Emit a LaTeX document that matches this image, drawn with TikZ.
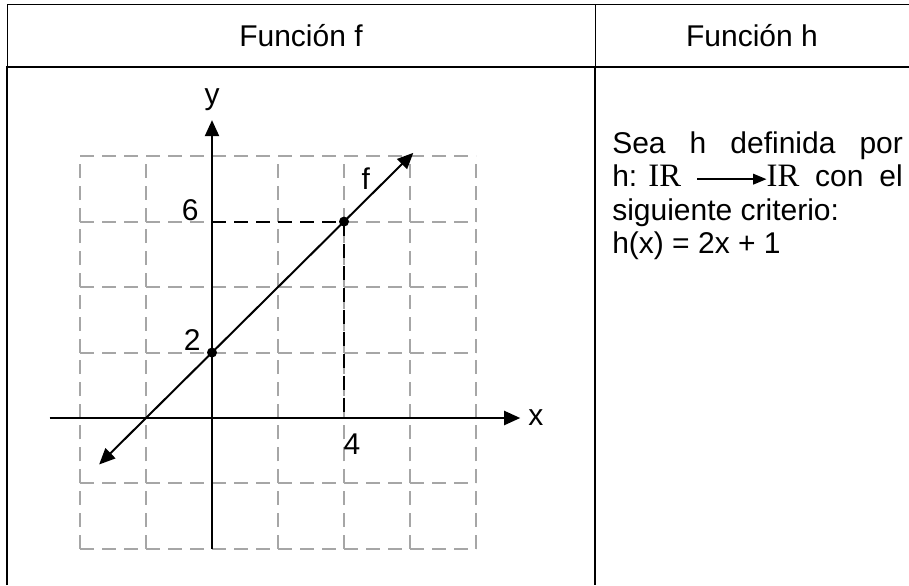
\documentclass[tikz,border=0pt]{standalone}
\usepackage{fontspec}
\setmainfont{Liberation Sans}
\newfontfamily\irfont{Liberation Serif}
\usetikzlibrary{arrows.meta}

\begin{document}
\begin{tikzpicture}[x=0.75pt, y=-0.75pt, font=\fontsize{22.5}{25}\selectfont,
    gridline/.style={black!35, line width=1.5pt, dash pattern=on 10.5pt off 6pt},
    guide/.style={line width=1.5pt, dash pattern=on 10.5pt off 6pt},
    axis/.style={line width=1.6pt, -{Triangle[length=12pt,width=10.5pt]}},
    lbl/.style={inner sep=0pt},
    dot/.style={circle, fill, inner sep=0pt, minimum size=7.5pt}]
    \useasboundingbox (0,0) rectangle (909,585);
    % table
    \draw[line width=0.75pt] (7,67) -- (7,5) -- (909,5);
    \draw[line width=0.75pt] (595,5) -- (595,67);
    \draw[line width=1.5pt] (7,585) -- (7,67) -- (909,67);
    \draw[line width=1.5pt] (595,67) -- (595,585);
    \node[lbl, anchor=base] (colf) at (301,46) {Función f};
    \node[lbl, anchor=base] (colh) at (752,46) {Función h};
    % grafica de f
    \begin{scope}[shift={(212,418)}, x=49.5pt, y=49.1pt]
        \foreach \i in {-2,...,4}
            \foreach \j in {-2,...,3}
                \draw[gridline] (\i,\j) -- (\i,\j+1);
        \foreach \j in {-2,...,4}
            \foreach \i in {-2,...,3}
                \draw[gridline] (\i,\j) -- (\i+1,\j);
        \coordinate (xs) at (-2.46,0);
        \coordinate (xtip) at (4.67,0);
        \coordinate (ys) at (0,-2);
        \coordinate (ytip) at (0,4.55);
        \draw[axis] (xs) -- (xtip);
        \draw[axis] (ys) -- (ytip);
        \node[lbl, right=6pt] (xlab) at (xtip) {x};
        \node[lbl, above=7pt] (ylab) at (ytip) {y};
        \node[dot] (p2) at (0,1) {};
        \node[dot] (p6) at (2,3) {};
        \draw[guide] (0,3) -- (p6.center) -- (2,0);
        \coordinate (fa) at (-1.71,-0.71);
        \coordinate (fb) at (3.05,4.05);
        \draw[line width=1.5pt, {Triangle[length=12pt,width=10.5pt]}-{Triangle[length=12pt,width=10.5pt]}] (fa) -- (fb);
        \node[lbl] (l6) at (-0.33,3.17) {6};
        \node[lbl] (l2) at (-0.3,1.19) {2};
        \node[lbl] (l4) at (2.12,-0.4) {4};
        \node[lbl] (lf) at (2.33,3.66) {f};
    \end{scope}
    % funcion h
    \node[lbl, anchor=base west] (h1) at (612,153) {\makebox[218pt][s]{Sea\hfill h\hfill definida\hfill por}};
    \node[lbl, anchor=base west] (h2a) at (612,186.5) {h: {\irfont\fontsize{24.5}{25}\selectfont IR}};
    \node[lbl, anchor=base east] (h2b) at (903,186.5) {\makebox[102pt][s]{{\irfont\fontsize{24.5}{25}\selectfont IR} con el}};
    \draw[line width=1.1pt, -{Triangle[length=10pt,width=8pt]}] ([shift={(12pt,5.5pt)}]h2a.base east) -- ([yshift=5.5pt]h2b.base west);
    \node[lbl, anchor=base west] (h3) at (612,220) {siguiente criterio:};
    \node[lbl, anchor=base west] (h4) at (612,253.5) {h(x) = 2x + 1};
\end{tikzpicture}
\end{document}
